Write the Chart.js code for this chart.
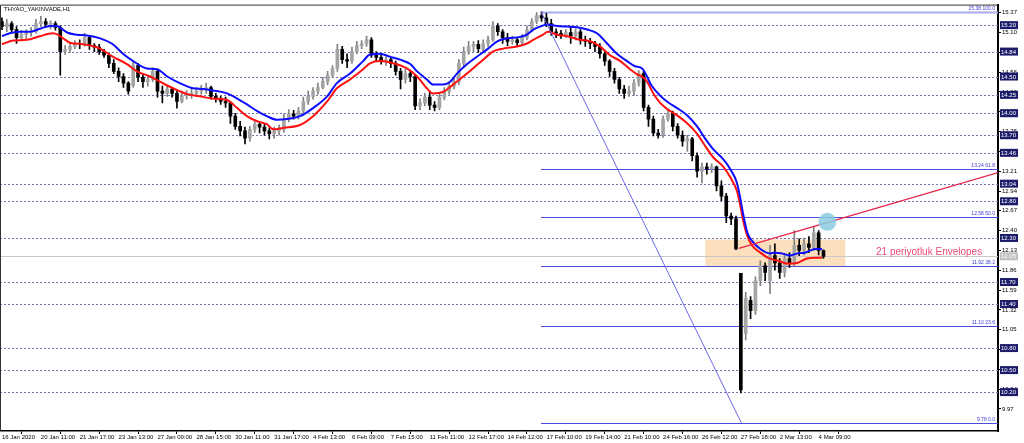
<!DOCTYPE html>
<html>
<head>
<meta charset="utf-8">
<script src="https://cdn.jsdelivr.net/npm/chart.js@4.4.0/dist/chart.umd.min.js"></script>
<style>
  html, body { margin: 0; padding: 0; background: #fff; }
  #wrap { width: 1024px; height: 443px; }
</style>
</head>
<body>
<div id="wrap"><canvas id="chart" width="1024" height="443"></canvas></div>
<script>
// --- data ---
const symbolTitle = 'THYAO_YAKINVADE,H1';

// time axis labels and the candle index they sit on
const timeLabels = ['16 Jan 2020', '20 Jan 11:00', '21 Jan 17:00', '23 Jan 13:00', '27 Jan 09:00', '28 Jan 15:00',
  '30 Jan 11:00', '31 Jan 17:00', '4 Feb 13:00', '6 Feb 09:00', '7 Feb 15:00', '11 Feb 11:00', '12 Feb 17:00',
  '14 Feb 12:00', '17 Feb 10:00', '19 Feb 14:00', '21 Feb 10:00', '24 Feb 16:00', '26 Feb 12:00', '27 Feb 18:00',
  '2 Mar 13:00', '4 Mar 09:00'];
const timeLabelIdx = [0, 8, 16, 24, 32, 40, 48, 56, 64, 72, 80, 88, 96, 104, 112, 120, 128, 136, 144, 152, 160, 168];

// candles (OHLC)
const opens = [
  15.25, 15.18, 15.22, 15.14, 15.03, 15.07, 15.10, 15.11, 15.22, 15.25,
  15.21, 15.22, 15.17, 14.84, 14.87, 14.91, 14.95, 14.94, 15.03, 14.92,
  14.90, 14.84, 14.79, 14.68, 14.57, 14.50, 14.41, 14.38, 14.65, 14.49,
  14.43, 14.46, 14.57, 14.30, 14.27, 14.33, 14.27, 14.16, 14.24, 14.26,
  14.27, 14.30, 14.33, 14.35, 14.23, 14.20, 14.16, 14.14, 13.96, 13.82,
  13.76, 13.66, 13.78, 13.85, 13.81, 13.76, 13.72, 13.76, 13.78, 13.92,
  13.99, 13.96, 14.03, 14.16, 14.23, 14.30, 14.35, 14.43, 14.52, 14.61,
  14.87, 14.73, 14.71, 14.84, 14.92, 14.95, 15.00, 14.79, 14.76, 14.71,
  14.73, 14.68, 14.57, 14.46, 14.54, 14.50, 14.10, 14.14, 14.22, 14.11,
  14.08, 14.22, 14.30, 14.37, 14.43, 14.68, 14.84, 14.91, 14.94, 14.88,
  14.95, 15.00, 15.19, 15.11, 15.03, 14.98, 15.00, 14.96, 15.03, 15.14,
  15.25, 15.33, 15.30, 15.22, 15.11, 15.09, 15.07, 15.10, 15.05, 15.11,
  15.00, 14.98, 14.95, 14.91, 14.81, 14.71, 14.57, 14.46, 14.33, 14.27,
  14.30, 14.41, 14.54, 14.08, 13.92, 13.73, 13.70, 13.92, 14.00, 13.82,
  13.70, 13.62, 13.65, 13.42, 13.21, 13.27, 13.24, 13.27, 13.01, 12.87,
  12.60, 12.56, 11.82, 11.00, 11.45, 11.31, 11.72, 11.92, 11.72, 12.06,
  11.96, 11.83, 12.02, 11.96, 12.20, 12.13, 12.22, 12.17, 12.37, 12.13
];
const highs = [
  15.30, 15.28, 15.25, 15.18, 15.13, 15.14, 15.17, 15.28, 15.32, 15.29,
  15.26, 15.25, 15.19, 14.92, 14.95, 14.99, 15.00, 15.09, 15.06, 14.95,
  14.94, 14.87, 14.81, 14.73, 14.62, 14.54, 14.43, 14.71, 14.68, 14.54,
  14.52, 14.62, 14.60, 14.37, 14.38, 14.35, 14.30, 14.30, 14.31, 14.33,
  14.35, 14.38, 14.41, 14.37, 14.27, 14.23, 14.22, 14.16, 14.00, 13.89,
  13.81, 13.82, 13.91, 13.88, 13.85, 13.80, 13.81, 13.84, 13.99, 14.05,
  14.04, 14.08, 14.22, 14.30, 14.35, 14.41, 14.49, 14.57, 14.65, 14.94,
  14.91, 14.81, 14.90, 14.98, 14.99, 15.05, 15.03, 14.84, 14.80, 14.77,
  14.76, 14.71, 14.61, 14.60, 14.57, 14.53, 14.20, 14.27, 14.30, 14.16,
  14.27, 14.35, 14.41, 14.49, 14.73, 14.90, 14.98, 14.98, 14.99, 15.00,
  15.05, 15.25, 15.22, 15.14, 15.09, 15.05, 15.03, 15.07, 15.19, 15.29,
  15.37, 15.38, 15.36, 15.28, 15.15, 15.13, 15.14, 15.17, 15.15, 15.14,
  15.05, 15.02, 14.98, 14.95, 14.84, 14.73, 14.61, 14.49, 14.38, 14.37,
  14.46, 14.58, 14.57, 14.11, 13.96, 13.78, 13.96, 14.05, 14.03, 13.86,
  13.76, 13.70, 13.67, 13.46, 13.32, 13.32, 13.31, 13.28, 13.08, 12.91,
  12.64, 12.60, 11.82, 11.56, 11.50, 11.77, 11.99, 11.96, 12.20, 12.22,
  12.02, 12.09, 12.10, 12.40, 12.29, 12.30, 12.32, 12.45, 12.40, 12.14
];
const lows = [
  15.14, 15.11, 15.10, 14.95, 15.00, 15.02, 15.05, 15.09, 15.18, 15.17,
  15.15, 15.13, 14.52, 14.80, 14.83, 14.88, 14.88, 14.91, 14.87, 14.84,
  14.80, 14.76, 14.62, 14.54, 14.43, 14.35, 14.26, 14.35, 14.43, 14.35,
  14.37, 14.43, 14.22, 14.14, 14.23, 14.22, 14.07, 14.14, 14.19, 14.20,
  14.23, 14.26, 14.27, 14.19, 14.15, 14.12, 14.08, 13.86, 13.78, 13.69,
  13.58, 13.62, 13.74, 13.73, 13.70, 13.65, 13.66, 13.70, 13.74, 13.88,
  13.92, 13.92, 13.97, 14.12, 14.19, 14.26, 14.33, 14.39, 14.49, 14.57,
  14.68, 14.62, 14.68, 14.81, 14.88, 14.91, 14.76, 14.71, 14.67, 14.65,
  14.62, 14.52, 14.33, 14.41, 14.43, 14.05, 14.05, 14.10, 14.05, 14.03,
  14.05, 14.18, 14.26, 14.33, 14.39, 14.64, 14.80, 14.84, 14.83, 14.84,
  14.90, 14.98, 15.06, 14.95, 14.92, 14.94, 14.92, 14.92, 15.00, 15.11,
  15.22, 15.25, 15.18, 15.06, 15.03, 15.02, 15.03, 14.95, 15.00, 14.94,
  14.91, 14.88, 14.84, 14.75, 14.65, 14.50, 14.41, 14.27, 14.20, 14.23,
  14.24, 14.37, 14.03, 13.82, 13.69, 13.66, 13.67, 13.89, 13.76, 13.66,
  13.55, 13.48, 13.35, 13.13, 13.05, 13.17, 13.19, 12.94, 12.81, 12.51,
  12.48, 12.14, 10.19, 10.91, 11.20, 11.26, 11.65, 11.72, 11.54, 11.86,
  11.75, 11.77, 11.90, 11.92, 12.06, 12.07, 12.10, 12.13, 12.07, 12.02
];
const closes = [
  15.18, 15.22, 15.14, 15.03, 15.07, 15.10, 15.11, 15.22, 15.25, 15.21,
  15.22, 15.17, 14.84, 14.87, 14.91, 14.95, 14.94, 15.03, 14.92, 14.90,
  14.84, 14.79, 14.68, 14.57, 14.50, 14.41, 14.30, 14.65, 14.49, 14.43,
  14.46, 14.57, 14.30, 14.27, 14.33, 14.27, 14.16, 14.24, 14.26, 14.27,
  14.30, 14.33, 14.35, 14.23, 14.20, 14.16, 14.14, 13.96, 13.82, 13.76,
  13.66, 13.78, 13.85, 13.81, 13.76, 13.72, 13.76, 13.78, 13.92, 13.99,
  13.96, 14.03, 14.16, 14.23, 14.30, 14.35, 14.43, 14.52, 14.61, 14.87,
  14.73, 14.71, 14.84, 14.92, 14.95, 15.00, 14.79, 14.76, 14.71, 14.73,
  14.68, 14.57, 14.46, 14.54, 14.50, 14.10, 14.14, 14.22, 14.11, 14.08,
  14.22, 14.30, 14.37, 14.43, 14.68, 14.84, 14.91, 14.94, 14.88, 14.95,
  15.00, 15.19, 15.11, 15.03, 14.98, 15.00, 14.96, 15.03, 15.14, 15.25,
  15.33, 15.30, 15.22, 15.11, 15.09, 15.07, 15.10, 15.05, 15.11, 15.00,
  14.98, 14.95, 14.91, 14.81, 14.71, 14.57, 14.46, 14.33, 14.27, 14.30,
  14.41, 14.54, 14.08, 13.92, 13.73, 13.70, 13.92, 14.00, 13.82, 13.70,
  13.62, 13.65, 13.42, 13.21, 13.27, 13.24, 13.27, 13.01, 12.87, 12.60,
  12.56, 12.15, 10.23, 11.48, 11.31, 11.72, 11.92, 11.83, 12.06, 11.96,
  11.83, 12.02, 11.96, 12.20, 12.13, 12.22, 12.17, 12.37, 12.13, 12.05
];

// 21 periyotluk Envelopes: upper band (blue) and lower band (red)
const upperIdx = [0, 1.6, 3.7, 5.8, 7.8, 9.9, 11.3, 11.9, 13.4, 15.4, 17.5, 20.2, 22.8, 24.9, 27, 29.8, 31.9, 34,
  36.6, 39.3, 41.4, 43.4, 46.3, 48.4, 50.4, 52.5, 54.5, 56.6, 58.6, 61.3, 64, 66.9, 68.9, 71.6, 74.3, 75.7, 77.8,
  79.8, 81.9, 84, 85.4, 87.4, 88.7, 90.7, 92.2, 93.6, 95.7, 97.7, 99.8, 101.9, 103.9, 106.6, 108, 109.3, 110.7,
  112.1, 114.2, 116.3, 118.3, 120.4, 122.4, 124.5, 126.5, 128.6, 130.2, 131.7, 133.7, 135.4, 137, 138.9, 141, 143,
  144.7, 146.3, 148.4, 149.8, 151.2, 151.8, 152.5, 153.3, 154.3, 156, 158, 159, 160.5, 162.1, 163.6, 165.2, 167.3, 168.7];
const upperVals = [15.05, 15.09, 15.11, 15.11, 15.15, 15.19, 15.19, 15.17, 15.10, 15.07, 15.06, 15.02, 14.94, 14.81,
  14.71, 14.61, 14.60, 14.50, 14.41, 14.34, 14.33, 14.31, 14.27, 14.20, 14.12, 14.03, 13.96, 13.91, 13.92, 13.96,
  14.07, 14.23, 14.41, 14.54, 14.71, 14.80, 14.81, 14.77, 14.73, 14.67, 14.57, 14.46, 14.39, 14.39, 14.43, 14.54,
  14.67, 14.77, 14.87, 14.98, 15.02, 15.04, 15.07, 15.14, 15.18, 15.21, 15.19, 15.18, 15.17, 15.14, 15.09, 14.95,
  14.81, 14.71, 14.64, 14.61, 14.37, 14.24, 14.15, 14.07, 13.97, 13.82, 13.65, 13.51, 13.37, 13.24, 13.05, 12.87,
  12.62, 12.38, 12.26, 12.15, 12.09, 12.10, 12.09, 12.06, 12.09, 12.10, 12.15, 12.15];
const lowerIdx = [0, 2.3, 5.1, 7.8, 10.5, 11.5, 12.6, 14, 16.7, 20.2, 22.8, 25.7, 27.8, 30.5, 32.5, 35.2, 38.1, 40.7,
  43.4, 46.3, 48.4, 50.4, 52.5, 54.5, 55.8, 57.8, 61.3, 64, 66.9, 68.9, 71.6, 74.3, 75.7, 77.8, 80.5, 83.3, 85.4,
  87.4, 88.7, 90.7, 92.8, 94.9, 96.9, 99, 101, 103.1, 106, 108, 109.3, 111.3, 112.3, 114.2, 116.3, 118.9, 121, 123,
  125.1, 127.2, 129.2, 130.7, 131.7, 132.7, 134, 135.4, 137, 138.9, 141, 143, 144.7, 146.3, 148.4, 149.8, 151.2,
  151.8, 152.5, 153.3, 154.3, 156, 157.6, 159.7, 161.7, 163.6, 165.6, 167.3, 168.7];
const lowerVals = [14.94, 14.99, 15.00, 15.05, 15.09, 15.07, 15.02, 14.96, 14.94, 14.88, 14.77, 14.67, 14.57, 14.50,
  14.43, 14.34, 14.26, 14.23, 14.20, 14.18, 14.07, 13.96, 13.89, 13.85, 13.78, 13.80, 13.84, 13.96, 14.16, 14.34,
  14.46, 14.60, 14.68, 14.71, 14.68, 14.61, 14.50, 14.34, 14.27, 14.29, 14.39, 14.50, 14.61, 14.73, 14.84, 14.88,
  14.91, 14.95, 15.00, 15.07, 15.11, 15.07, 15.05, 15.00, 14.98, 14.91, 14.79, 14.71, 14.60, 14.53, 14.50, 14.43,
  14.27, 14.14, 14.05, 13.97, 13.86, 13.72, 13.55, 13.40, 13.27, 13.13, 12.94, 12.77, 12.53, 12.33, 12.20, 12.10,
  12.03, 11.99, 11.95, 11.96, 12.02, 12.03, 12.03];

// price scale
const yTicks = [15.37, 15.10, 14.83, 14.56, 14.29, 14.02, 13.75, 13.48, 13.21, 12.94, 12.67, 12.40, 12.13, 11.86,
  11.59, 11.32, 11.05, 10.78, 10.51, 10.24, 9.97];
const levels = [15.20, 14.84, 14.50, 14.25, 14.00, 13.70, 13.46, 13.04, 12.80, 12.30, 11.70, 11.40, 10.80, 10.50, 10.20];
const lastPrice = 12.05;

// Fibonacci retracement
const fibVals = [15.38, 13.24, 12.58, 11.92, 11.10, 9.78];
const fibPct = ['100.0', '61.8', '50.0', '38.2', '23.6', '0.0'];
const fibLineIdx = [110.9, 152.1];
const fibLineVals = [15.38, 9.78];

// red trend line, zone, circle, note
const trendIdx = [151.6, 204.9];
const trendVals = [12.16, 13.19];
const zoneIdx = [144.7, 173.5];
const zoneVals = [12.28, 11.91];
const circleIdx = [169.8];
const circleVals = [12.52];
const noteText = '21 periyotluk Envelopes';
const noteIdx = 179.8;
const noteVal = 12.10;

// --- build datasets ---
const isBull = closes.map((c, i) => c >= opens[i]);
const bodyData = opens.map((o, i) => ({ x: i, y: [o, closes[i]] }));
const wickData = lows.map((l, i) => ({ x: i, y: [l, highs[i]] }));
const toPts = (idx, vals) => idx.map((v, i) => ({ x: v, y: vals[i] }));

const smallFont = 'Liberation Sans, Arial, sans-serif';

const overlay = {
  id: 'overlay',
  beforeDatasetsDraw(chart) {
    const { ctx, chartArea: a, scales: { x, y } } = chart;
    ctx.save();
    ctx.beginPath();
    ctx.rect(a.left, a.top, a.width, a.height);
    ctx.clip();

    // shaded zone
    const zx1 = x.getPixelForValue(zoneIdx[0]), zx2 = x.getPixelForValue(zoneIdx[1]);
    const zy1 = y.getPixelForValue(zoneVals[0]), zy2 = y.getPixelForValue(zoneVals[1]);
    ctx.fillStyle = 'rgba(252,220,182,0.9)';
    ctx.fillRect(zx1, zy1, zx2 - zx1, zy2 - zy1);

    // dashed horizontal levels
    ctx.strokeStyle = '#7474ae';
    ctx.lineWidth = 1;
    ctx.setLineDash([2, 2]);
    levels.forEach(v => {
      const py = Math.round(y.getPixelForValue(v)) + 0.5;
      ctx.beginPath(); ctx.moveTo(a.left, py); ctx.lineTo(a.right, py); ctx.stroke();
    });
    ctx.setLineDash([]);

    // current price line
    const lp = Math.round(y.getPixelForValue(lastPrice)) + 0.5;
    ctx.strokeStyle = '#c8c8c8';
    ctx.beginPath(); ctx.moveTo(a.left, lp); ctx.lineTo(a.right, lp); ctx.stroke();

    // fib levels
    const fx = x.getPixelForValue(fibLineIdx[0]);
    fibVals.forEach((v, i) => {
      const py = Math.round(y.getPixelForValue(v)) + 0.5;
      ctx.strokeStyle = i === 0 ? '#aaaaee' : '#4c4cdc';
      ctx.lineWidth = i === 0 ? 2 : 1;
      ctx.beginPath(); ctx.moveTo(fx, py); ctx.lineTo(a.right, py); ctx.stroke();
    });
    ctx.restore();
  },
  afterDatasetsDraw(chart) {
    const { ctx, chartArea: a, scales: { x, y } } = chart;
    ctx.save();

    // fib labels
    ctx.font = '5px ' + smallFont;
    ctx.fillStyle = '#3a3ad8';
    ctx.textAlign = 'right';
    ctx.textBaseline = 'bottom';
    fibVals.forEach((v, i) => {
      ctx.fillText(v.toFixed(2) + ' ' + fibPct[i], a.right - 3, y.getPixelForValue(v) - 1);
    });

    // envelope note
    ctx.font = '10px ' + smallFont;
    ctx.fillStyle = '#ec4a78';
    ctx.textAlign = 'left';
    ctx.textBaseline = 'middle';
    ctx.fillText(noteText, x.getPixelForValue(noteIdx), y.getPixelForValue(noteVal));

    // title
    ctx.font = '6px ' + smallFont;
    ctx.fillStyle = '#000';
    ctx.fillText(symbolTitle, a.left + 4, a.top + 5);

    // price labels on the right axis
    ctx.font = '6px ' + smallFont;
    const boxLabel = (v, bg) => {
      const py = y.getPixelForValue(v);
      ctx.fillStyle = bg;
      ctx.fillRect(a.right + 2, py - 4, 18, 8);
      ctx.fillStyle = '#fff';
      ctx.fillText(v.toFixed(2), a.right + 3, py + 0.5);
    };
    levels.forEach(v => boxLabel(v, '#1c1c6a'));
    boxLabel(lastPrice, '#c0c0c0');

    // frame
    ctx.strokeStyle = '#333';
    ctx.lineWidth = 1;
    ctx.beginPath();
    ctx.moveTo(a.left + 0.5, a.bottom); ctx.lineTo(a.left + 0.5, a.top + 0.5); ctx.lineTo(a.right, a.top + 0.5);
    ctx.stroke();
    ctx.restore();
  }
};

new Chart(document.getElementById('chart'), {
  type: 'bar',
  data: {
    datasets: [
      {
        type: 'line', data: toPts(circleIdx, circleVals), showLine: false, order: 0,
        pointRadius: 9, pointBackgroundColor: 'rgba(138,205,226,0.85)', pointBorderWidth: 0
      },
      {
        type: 'line', data: toPts(trendIdx, trendVals), order: 1,
        borderColor: '#e8244c', borderWidth: 1.3, pointRadius: 0, tension: 0
      },
      {
        type: 'line', data: toPts(fibLineIdx, fibLineVals), order: 1,
        borderColor: '#6a6aea', borderWidth: 1, pointRadius: 0, tension: 0
      },
      {
        type: 'line', data: toPts(upperIdx, upperVals), order: 2,
        borderColor: '#0c0cff', borderWidth: 2, pointRadius: 0, cubicInterpolationMode: 'monotone'
      },
      {
        type: 'line', data: toPts(lowerIdx, lowerVals), order: 2,
        borderColor: '#ff1010', borderWidth: 2, pointRadius: 0, cubicInterpolationMode: 'monotone'
      },
      {
        data: bodyData, order: 3, grouped: false, barThickness: 3, minBarLength: 1,
        backgroundColor: isBull.map(b => b ? '#a4a4a4' : '#000')
      },
      {
        data: wickData, order: 4, grouped: false, barThickness: 1,
        backgroundColor: isBull.map(b => b ? '#808080' : '#000')
      }
    ]
  },
  options: {
    responsive: false,
    animation: false,
    events: [],
    layout: { autoPadding: false, padding: { top: 3, left: 0, right: 0, bottom: 0 } },
    plugins: { legend: { display: false }, tooltip: { enabled: false } },
    scales: {
      x: {
        type: 'linear', min: -0.4, max: 204.9, offset: false,
        afterBuildTicks: s => { s.ticks = timeLabelIdx.map(v => ({ value: v })); },
        afterFit: s => { s.height = 12; },
        grid: { drawOnChartArea: false, drawTicks: true, tickLength: 3, color: '#000' },
        border: { display: true, color: '#000', width: 1.5 },
        ticks: {
          autoSkip: false, maxRotation: 0, minRotation: 0, align: 'start', padding: 0,
          color: '#000', font: { family: smallFont, size: 6 },
          callback: v => { const k = timeLabelIdx.indexOf(v); return k >= 0 ? timeLabels[k] : ''; }
        }
      },
      y: {
        type: 'linear', position: 'right', min: 9.67, max: 15.48,
        afterBuildTicks: s => { s.ticks = yTicks.map(v => ({ value: v })); },
        afterFit: s => { s.width = 26; },
        grid: { drawOnChartArea: false, drawTicks: true, tickLength: 3, color: '#000' },
        border: { display: true, color: '#000', width: 2 },
        ticks: {
          autoSkip: false, padding: 1, color: '#000', font: { family: smallFont, size: 6 },
          callback: v => v.toFixed(2)
        }
      }
    }
  },
  plugins: [overlay]
});
</script>
</body>
</html>
